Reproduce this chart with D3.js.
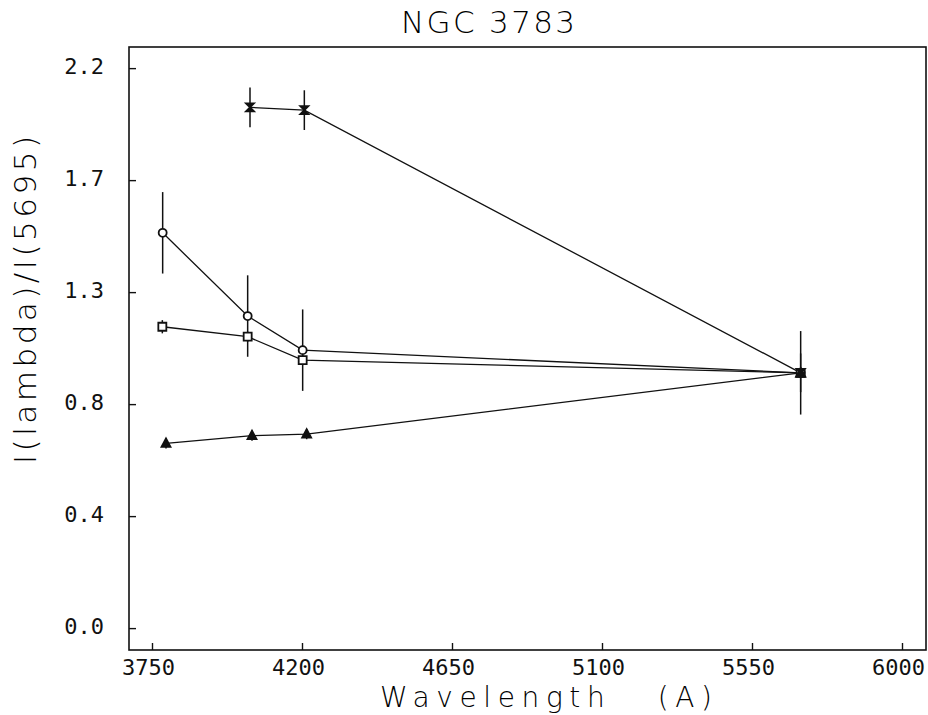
<!DOCTYPE html>
<html>
<head>
<meta charset="utf-8">
<script src="https://cdn.jsdelivr.net/npm/d3@7"></script>
<style>
  body { margin: 0; background: #fff; }
  svg { display: block; }
</style>
</head>
<body>
<svg id="chart" width="928" height="715"></svg>
<script>
// values
var circleWave = [3782, 4037, 4202, 5696];
var circleVal = [1.553, 1.226, 1.092, 1.003];
var circleErr = [0.16, 0.16, 0.16, 0.164];

var squareWave = [3781, 4037, 4202, 5696];
var squareVal = [1.184, 1.145, 1.053, 1.003];
var squareErr = [0.026, 0.02, 0.02, 0.02];

var crossWave = [4044, 4207, 5696];
var crossVal = [2.046, 2.035, 1.003];
var crossErr = [0.078, 0.078, 0.076];

var triWave = [3792, 4050, 4214, 5696];
var triVal = [0.726, 0.756, 0.762, 1.003];
var triErr = [0.02, 0.02, 0.02, 0.02];

var xTicks = [3750, 4200, 4650, 5100, 5550, 6000];
var yTicks = [0, 0.44, 0.88, 1.32, 1.76, 2.2];
var yTickLabels = ["0.0", "0.4", "0.8", "1.3", "1.7", "2.2"];

var svg = d3.select("#chart");

var x = d3.scaleLinear().domain([3681, 6075]).range([129, 927]);
var y = d3.scaleLinear().domain([-0.086, 2.283]).range([650, 47]);

// frame
svg.append("rect")
  .attr("x", x.range()[0])
  .attr("y", y.range()[1])
  .attr("width", x.range()[1] - x.range()[0] - 1)
  .attr("height", y.range()[0] - y.range()[1])
  .attr("fill", "none")
  .attr("stroke", "#111")
  .attr("stroke-width", 1.6);

// inward ticks on bottom and left
var xAxis = d3.axisBottom(x).tickValues(xTicks).tickFormat(d3.format("d"))
  .tickSizeInner(-7).tickSizeOuter(0).tickPadding(11);
var gx = svg.append("g").attr("transform", "translate(0," + y.range()[0] + ")").call(xAxis);
gx.select(".domain").remove();
gx.selectAll("line").attr("stroke", "#111").attr("stroke-width", 1.4);
gx.selectAll("text")
  .attr("font-family", "DejaVu Sans Mono")
  .attr("font-size", 22)
  .attr("fill", "#111")
  .attr("dx", -4)
  .attr("dy", "0.62em");

var yAxis = d3.axisLeft(y).tickValues(yTicks).tickFormat(function (d, i) { return yTickLabels[i]; })
  .tickSizeInner(-7).tickSizeOuter(0).tickPadding(25);
var gy = svg.append("g").attr("transform", "translate(" + x.range()[0] + ",0)").call(yAxis);
gy.select(".domain").remove();
gy.selectAll("line").attr("stroke", "#111").attr("stroke-width", 1.4);
gy.selectAll("text")
  .attr("font-family", "DejaVu Sans Mono")
  .attr("font-size", 22)
  .attr("fill", "#111")
  .attr("dy", "0.25em");

// titles
svg.append("text")
  .attr("x", 401).attr("y", 33)
  .attr("font-family", "DejaVu Sans").attr("font-weight", 200)
  .attr("font-size", 31).attr("fill", "#000")
  .attr("textLength", 174).attr("lengthAdjust", "spacing")
  .text("NGC 3783");

svg.append("text")
  .attr("x", 380).attr("y", 707)
  .attr("font-family", "DejaVu Sans").attr("font-weight", 200)
  .attr("font-size", 28).attr("fill", "#000")
  .attr("textLength", 332).attr("lengthAdjust", "spacing")
  .attr("xml:space", "preserve")
  .style("white-space", "pre")
  .text("Wavelength   (A)");

svg.append("text")
  .attr("transform", "translate(36,464) rotate(-90)")
  .attr("font-family", "DejaVu Sans").attr("font-weight", 200)
  .attr("font-size", 31).attr("fill", "#000")
  .attr("textLength", 328).attr("lengthAdjust", "spacing")
  .text("I(lambda)/I(5695)");

function toPoints(w, v, e) {
  return w.map(function (d, i) { return { w: d, v: v[i], e: e[i] }; });
}

var series = [
  { pts: toPoints(circleWave, circleVal, circleErr), mark: "circle" },
  { pts: toPoints(squareWave, squareVal, squareErr), mark: "square" },
  { pts: toPoints(crossWave, crossVal, crossErr), mark: "hourglass" },
  { pts: toPoints(triWave, triVal, triErr), mark: "triangle" }
];

var line = d3.line().x(function (d) { return x(d.w); }).y(function (d) { return y(d.v); });

series.forEach(function (s) {
  svg.append("path")
    .attr("d", line(s.pts))
    .attr("fill", "none")
    .attr("stroke", "#111")
    .attr("stroke-width", 1.3);
});

series.forEach(function (s) {
  svg.append("g").selectAll("line")
    .data(s.pts)
    .join("line")
    .attr("x1", function (d) { return x(d.w); })
    .attr("x2", function (d) { return x(d.w); })
    .attr("y1", function (d) { return y(d.v + d.e); })
    .attr("y2", function (d) { return y(d.v - d.e); })
    .attr("stroke", "#111")
    .attr("stroke-width", 1.5);
});

function markPath(kind) {
  if (kind == "square") return "M-4,-4H4V4H-4Z";
  if (kind == "triangle") return "M0,-5L4.5,3.5H-4.5Z";
  if (kind == "hourglass") return "M-4,-4H4L-4,4H4Z";
  return null;
}

series.forEach(function (s) {
  var g = svg.append("g");
  if (s.mark == "circle") {
    g.selectAll("circle")
      .data(s.pts)
      .join("circle")
      .attr("cx", function (d) { return x(d.w); })
      .attr("cy", function (d) { return y(d.v); })
      .attr("r", 4)
      .attr("fill", "#fff")
      .attr("stroke", "#111")
      .attr("stroke-width", 1.8);
  } else {
    g.selectAll("path")
      .data(s.pts)
      .join("path")
      .attr("transform", function (d) { return "translate(" + x(d.w) + "," + y(d.v) + ")"; })
      .attr("d", markPath(s.mark))
      .attr("fill", s.mark == "square" ? "#fff" : "#111")
      .attr("stroke", "#111")
      .attr("stroke-width", 1.8);
  }
});
</script>
</body>
</html>
